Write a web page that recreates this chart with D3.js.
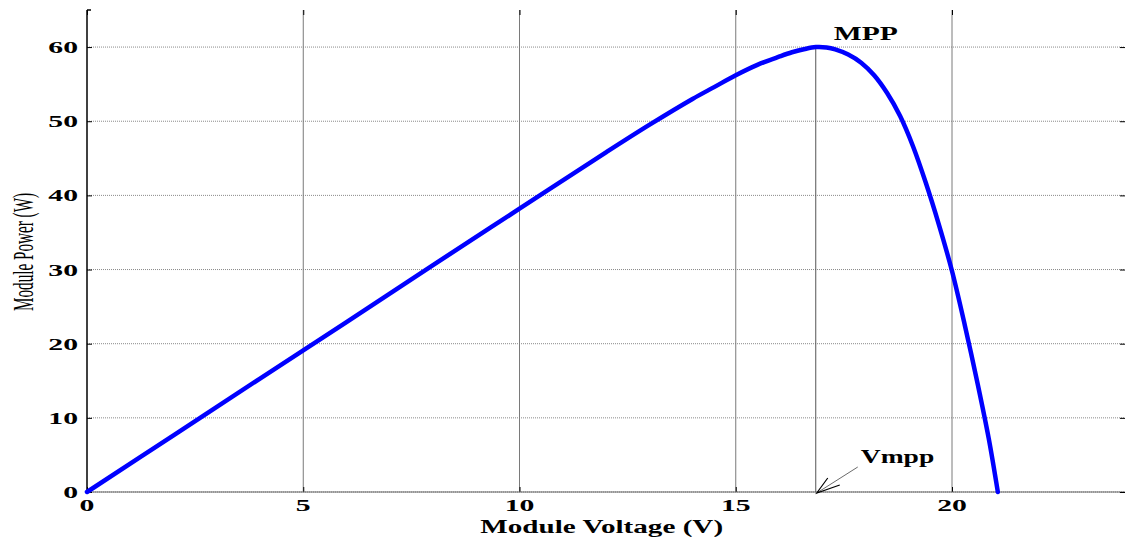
<!DOCTYPE html>
<html>
<head>
<meta charset="utf-8">
<script src="https://cdn.jsdelivr.net/npm/d3@7"></script>
<style>
  body { margin: 0; background: #fff; }
  svg text { font-family: "Liberation Serif", "Times New Roman", serif; }
</style>
</head>
<body>
<div id="chart"></div>
<script>
// values
var voltage = [0, 2, 4, 6, 8, 10, 12, 13, 14, 14.5, 15, 15.5, 16, 16.3, 16.6, 16.85, 17.1, 17.3, 17.6, 17.9,
               18.2, 18.5, 18.8, 19.1, 19.4, 19.7, 20.0, 20.3, 20.6, 20.85, 21.06];
var power   = [0, 7.65, 15.3, 22.9, 30.6, 38.2, 45.8, 49.5, 53.0, 54.6, 56.2, 57.6, 58.7, 59.3, 59.75, 60.0, 59.95, 59.7, 59.0, 57.9,
               56.2, 53.8, 50.7, 46.6, 41.6, 36.0, 29.8, 22.4, 14.4, 7.2, 0];
var xTicks = [0, 5, 10, 15, 20];
var yTicks = [0, 10, 20, 30, 40, 50, 60];
var mpp = {v: 16.85, p: 60};

var W = 1128, H = 540;
var margin = {left: 87, right: 3, top: 10, bottom: 48};
var width = W - margin.left - margin.right, height = H - margin.top - margin.bottom;

var svg = d3.select("#chart").append("svg")
    .attr("width", W).attr("height", H);
var g = svg.append("g")
    .attr("transform", "translate(" + margin.left + "," + margin.top + ")");

var x = d3.scaleLinear().domain([0, 24]).range([0, width]);
var y = d3.scaleLinear().domain([0, 65]).range([height, 0]);

// the picture was stretched sideways, so the text is too
function wideText(parent, tx, ty, sx, sy, str) {
    return parent.append("text")
        .attr("transform", "translate(" + tx + "," + ty + ") scale(" + sx + "," + sy + ")")
        .text(str);
}

// grid
g.selectAll(".hgrid").data(yTicks).enter().append("line")
    .attr("x1", 0).attr("x2", width)
    .attr("y1", function(d) { return y(d); }).attr("y2", function(d) { return y(d); })
    .attr("stroke", "#8a8a8a").attr("stroke-width", 1).attr("stroke-dasharray", "1,1");
g.selectAll(".vgrid").data(xTicks.slice(1)).enter().append("line")
    .attr("y1", 0).attr("y2", height)
    .attr("x1", function(d) { return x(d); }).attr("x2", function(d) { return x(d); })
    .attr("stroke", "#7a7a7a").attr("stroke-width", 1);

// MPP drop line
g.append("line")
    .attr("x1", x(mpp.v)).attr("x2", x(mpp.v))
    .attr("y1", y(mpp.p)).attr("y2", height)
    .attr("stroke", "#555").attr("stroke-width", 1);

// axes (inward ticks, MATLAB style)
var bottom = g.append("g").attr("transform", "translate(0," + height + ")")
    .call(d3.axisBottom(x).tickValues(xTicks).tickSizeInner(-5).tickSizeOuter(0).tickFormat(""));
var left = g.append("g")
    .call(d3.axisLeft(y).tickValues(yTicks).tickSizeInner(-5).tickSizeOuter(0).tickFormat(""));
g.append("g").attr("transform", "translate(" + width + ",0)")
    .call(d3.axisRight(y).tickValues(yTicks).tickSizeInner(-5).tickSizeOuter(0).tickFormat(""));
g.append("g")
    .call(d3.axisTop(x).tickValues(xTicks).tickSizeInner(-5).tickSizeOuter(0).tickFormat(""));
g.selectAll(".domain").attr("stroke", "none");
g.selectAll(".tick line").attr("stroke", "#000");

bottom.append("line").attr("x1", 0).attr("x2", width).attr("stroke", "#666").attr("stroke-width", 1.2);
left.append("line").attr("y1", 0).attr("y2", height).attr("stroke", "#000").attr("stroke-width", 1.5);
left.append("line").attr("x1", 0).attr("x2", 4).attr("stroke", "#000").attr("stroke-width", 1.5);

// tick labels
var tickFont = {size: 17, sx: 1.75};
xTicks.forEach(function(d) {
    wideText(g, x(d), height + 19, tickFont.sx, 1, d)
        .attr("text-anchor", "middle").attr("font-weight", "bold").attr("font-size", tickFont.size);
});
yTicks.forEach(function(d) {
    wideText(g, -9, y(d) + 6, tickFont.sx, 1, d)
        .attr("text-anchor", "end").attr("font-weight", "bold").attr("font-size", tickFont.size);
});

// curve
var pts = voltage.map(function(v, i) { return [v, power[i]]; });
g.append("path").datum(pts)
    .attr("fill", "none").attr("stroke", "#0000ff").attr("stroke-width", 4.5)
    .attr("stroke-linejoin", "round").attr("stroke-linecap", "round")
    .attr("d", d3.line().curve(d3.curveCatmullRom.alpha(0.5))
        .x(function(d) { return x(d[0]); }).y(function(d) { return y(d[1]); }));

// annotations
wideText(g, x(mpp.v) + 50, y(mpp.p) - 7, 1.56, 1, "MPP")
    .attr("text-anchor", "middle").attr("font-weight", "bold").attr("font-size", 19);
wideText(g, x(mpp.v) + 45, height - 29, 1.45, 1, "Vmpp")
    .attr("font-weight", "bold").attr("font-size", 19);
var ax = x(mpp.v) + 1, ay = height + 1;
g.append("line").attr("x1", x(mpp.v) + 42).attr("y1", height - 25).attr("x2", ax).attr("y2", ay)
    .attr("stroke", "#444").attr("stroke-width", 0.8);
g.append("path")
    .attr("d", "M" + (ax + 11) + "," + (ay - 15) + " L" + ax + "," + ay + " L" + (ax + 23) + "," + (ay - 8))
    .attr("fill", "none").attr("stroke", "#000").attr("stroke-width", 1.2);

// axis labels
wideText(svg, margin.left + x(11.9), 533, 1.62, 1, "Module Voltage (V)")
    .attr("text-anchor", "middle").attr("font-weight", "bold").attr("font-size", 18);
svg.append("text")
    .attr("transform", "translate(33,252) rotate(-90) scale(0.8,1.55)")
    .attr("text-anchor", "middle").attr("font-size", 19)
    .text("Module Power (W)");
</script>
</body>
</html>
